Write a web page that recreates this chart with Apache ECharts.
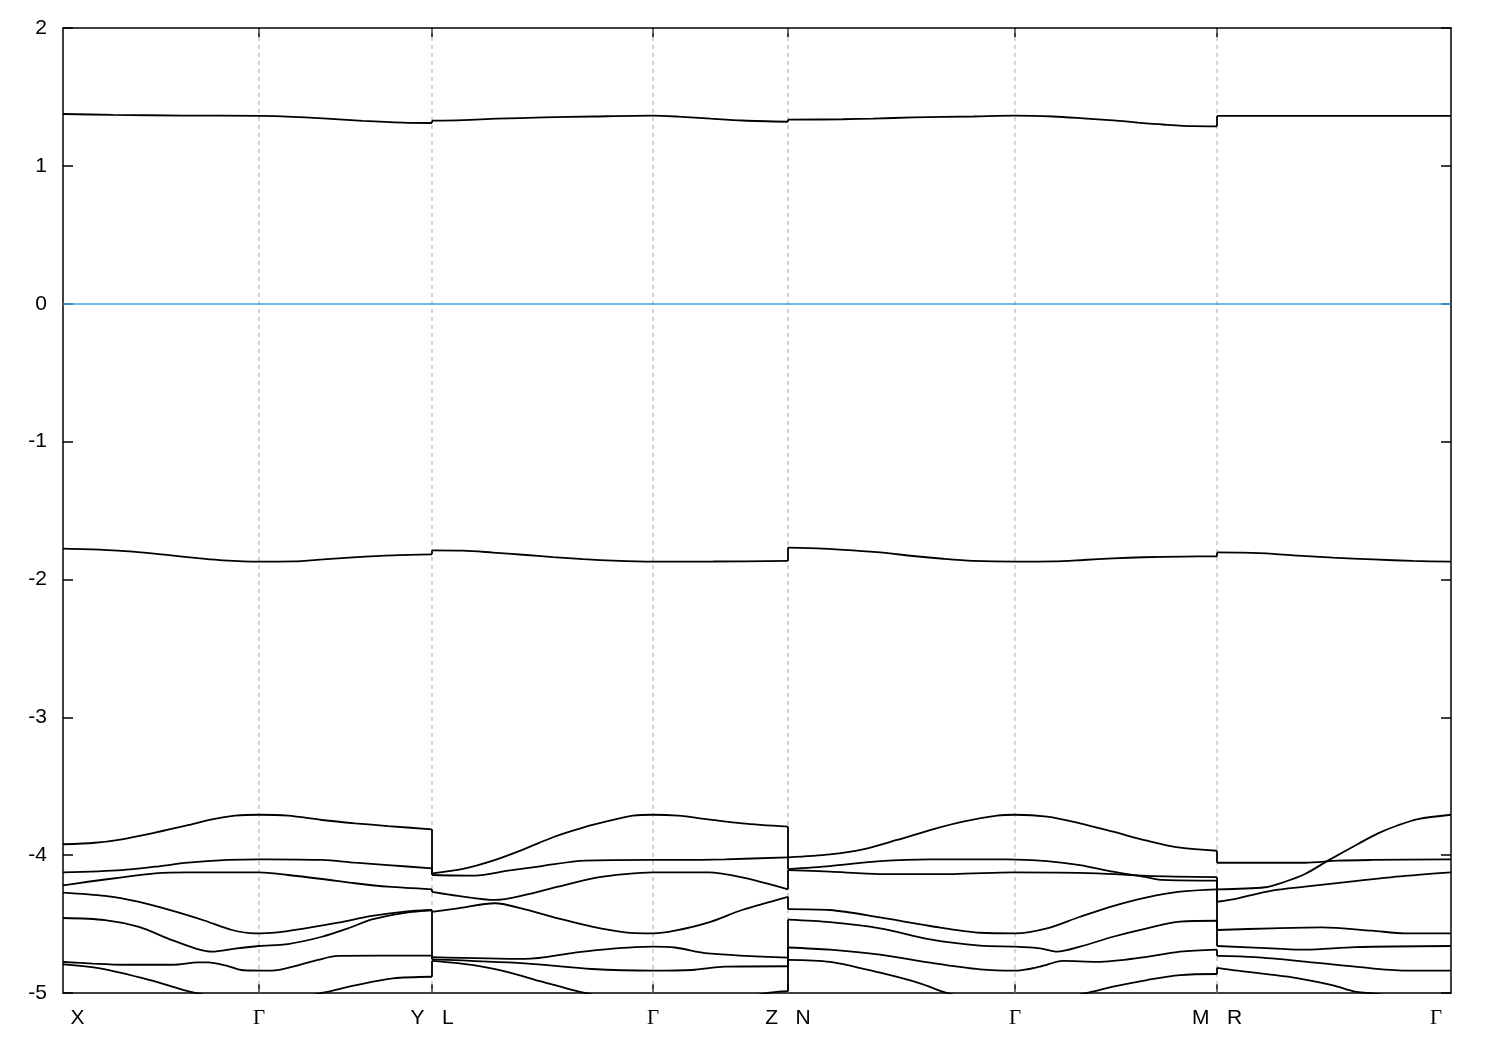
<!DOCTYPE html>
<html>
<head>
<meta charset="utf-8">
<script src="https://cdn.jsdelivr.net/npm/echarts@6/dist/echarts.min.js"></script>
<style>
html,body{margin:0;padding:0;background:#fff;}
#chart{width:1500px;height:1050px;}
</style>
</head>
<body>
<div id="chart"></div>
<script>
// High-symmetry points along the k-path
const kNodes = [0, 0.196, 0.369, 0.590, 0.725, 0.952, 1.154, 1.388];
const nodeLabels = ['X', 'Γ', 'Y   L', 'Γ', 'Z   N', 'Γ', 'M   R', 'Γ'];
const energyMin = -5;
const energyMax = 2;
const energyStep = 1;
const fermiLevel = 0;

// Bands: [k, E] pairs (segments X-Γ-Y | L-Γ-Z | N-Γ-M | R-Γ)
const bandTop = [
  [0,1.376],[0.05,1.370],[0.12,1.365],[0.196,1.362],[0.23,1.356],[0.26,1.345],[0.30,1.327],[0.34,1.314],[0.369,1.311],
  [0.369,1.328],[0.40,1.332],[0.434,1.342],[0.48,1.351],[0.53,1.358],[0.590,1.364],[0.615,1.357],[0.648,1.342],[0.68,1.329],[0.725,1.320],
  [0.725,1.335],[0.78,1.338],[0.81,1.343],[0.85,1.351],[0.91,1.358],[0.952,1.364],[0.99,1.358],[1.02,1.345],[1.05,1.330],[1.075,1.314],[1.10,1.300],[1.13,1.288],[1.154,1.287],
  [1.154,1.362],[1.388,1.362]
];
const bandMid = [
  [0,-1.777],[0.04,-1.785],[0.07,-1.799],[0.108,-1.826],[0.135,-1.846],[0.16,-1.862],[0.196,-1.871],[0.23,-1.869],[0.26,-1.855],[0.29,-1.840],[0.33,-1.825],[0.369,-1.818],
  [0.369,-1.789],[0.40,-1.791],[0.43,-1.805],[0.46,-1.821],[0.49,-1.838],[0.52,-1.853],[0.55,-1.864],[0.590,-1.871],[0.65,-1.870],[0.725,-1.866],
  [0.725,-1.769],[0.76,-1.776],[0.79,-1.789],[0.82,-1.806],[0.85,-1.830],[0.88,-1.850],[0.91,-1.865],[0.952,-1.871],[0.99,-1.869],[1.02,-1.859],[1.05,-1.847],[1.08,-1.839],[1.12,-1.834],[1.154,-1.833],
  [1.154,-1.804],[1.18,-1.806],[1.21,-1.814],[1.235,-1.827],[1.27,-1.842],[1.31,-1.855],[1.35,-1.866],[1.388,-1.871]
];
const band1 = [
  [0,-3.921],[0.032,-3.910],[0.059,-3.885],[0.092,-3.837],[0.125,-3.783],[0.149,-3.740],[0.172,-3.714],[0.196,-3.707],[0.225,-3.714],[0.259,-3.745],[0.292,-3.769],[0.325,-3.789],[0.369,-3.813],
  [0.369,-4.132],[0.40,-4.10],[0.43,-4.04],[0.46,-3.96],[0.49,-3.87],[0.52,-3.80],[0.55,-3.745],[0.57,-3.714],[0.590,-3.707],[0.615,-3.714],[0.645,-3.740],[0.679,-3.769],[0.725,-3.793],
  [0.725,-4.016],[0.767,-3.995],[0.800,-3.958],[0.834,-3.890],[0.867,-3.818],[0.900,-3.757],[0.934,-3.714],[0.952,-3.707],[0.984,-3.721],[1.017,-3.769],[1.050,-3.830],[1.084,-3.895],[1.117,-3.946],[1.154,-3.968],
  [1.154,-4.055],[1.242,-4.055],[1.275,-4.040],[1.309,-4.035],[1.388,-4.030]
];
const band2 = [
  [0,-4.125],[0.059,-4.108],[0.092,-4.084],[0.125,-4.055],[0.165,-4.035],[0.196,-4.030],[0.205,-4.030],[0.259,-4.035],[0.292,-4.055],[0.325,-4.072],[0.369,-4.096],
  [0.369,-4.144],[0.412,-4.149],[0.445,-4.113],[0.479,-4.079],[0.522,-4.040],[0.590,-4.035],[0.622,-4.035],[0.662,-4.030],[0.725,-4.016],
  [0.725,-4.101],[0.767,-4.079],[0.817,-4.043],[0.867,-4.030],[0.944,-4.030],[0.984,-4.043],[1.017,-4.072],[1.050,-4.120],[1.084,-4.161],[1.100,-4.180],[1.154,-4.185],
  [1.154,-4.338],[1.175,-4.313],[1.209,-4.258],[1.242,-4.229],[1.292,-4.188],[1.342,-4.151],[1.388,-4.125]
];
const band3 = [
  [0,-4.219],[0.025,-4.193],[0.059,-4.161],[0.092,-4.132],[0.125,-4.125],[0.196,-4.125],[0.225,-4.144],[0.259,-4.173],[0.292,-4.204],[0.325,-4.229],[0.369,-4.248],
  [0.369,-4.267],[0.395,-4.296],[0.432,-4.325],[0.462,-4.289],[0.495,-4.229],[0.535,-4.161],[0.562,-4.137],[0.590,-4.125],[0.645,-4.125],[0.679,-4.161],[0.725,-4.248],
  [0.725,-4.108],[0.767,-4.120],[0.817,-4.137],[0.890,-4.137],[0.950,-4.125],[1.034,-4.132],[1.084,-4.151],[1.154,-4.160],
  [1.154,-4.248],[1.202,-4.233],[1.222,-4.193],[1.242,-4.137],[1.265,-4.040],[1.295,-3.919],[1.315,-3.842],[1.335,-3.783],[1.355,-3.738],[1.388,-3.707]
];
const band4 = [
  [0,-4.272],[0.042,-4.296],[0.075,-4.338],[0.109,-4.403],[0.142,-4.476],[0.169,-4.543],[0.192,-4.567],[0.212,-4.562],[0.242,-4.531],[0.275,-4.490],[0.309,-4.441],[0.342,-4.410],[0.369,-4.398],
  [0.369,-4.412],[0.395,-4.386],[0.432,-4.349],[0.462,-4.393],[0.495,-4.458],[0.529,-4.519],[0.562,-4.560],[0.590,-4.567],[0.612,-4.548],[0.645,-4.490],[0.679,-4.398],[0.725,-4.302],
  [0.725,-4.391],[0.767,-4.398],[0.817,-4.452],[0.867,-4.514],[0.917,-4.563],[0.952,-4.567],[0.984,-4.531],[1.017,-4.447],[1.050,-4.369],[1.084,-4.306],[1.117,-4.265],[1.154,-4.248],
  [1.154,-4.543],[1.209,-4.531],[1.259,-4.524],[1.309,-4.548],[1.342,-4.567],[1.388,-4.567]
];
const band5 = [
  [0,-4.456],[0.042,-4.471],[0.075,-4.519],[0.109,-4.616],[0.132,-4.676],[0.149,-4.700],[0.172,-4.678],[0.196,-4.659],[0.225,-4.645],[0.259,-4.592],[0.285,-4.531],[0.309,-4.466],[0.342,-4.418],[0.369,-4.398],
  [0.369,-4.740],[0.462,-4.753],[0.512,-4.707],[0.545,-4.681],[0.590,-4.664],[0.612,-4.670],[0.645,-4.713],[0.725,-4.744],
  [0.725,-4.468],[0.767,-4.486],[0.817,-4.531],[0.867,-4.611],[0.917,-4.657],[0.952,-4.664],[0.977,-4.676],[0.994,-4.700],[1.017,-4.664],[1.050,-4.592],[1.084,-4.531],[1.117,-4.483],[1.154,-4.476],
  [1.154,-4.659],[1.209,-4.676],[1.242,-4.686],[1.292,-4.667],[1.388,-4.659]
];
const band6 = [
  [0,-4.775],[0.03,-4.787],[0.06,-4.795],[0.11,-4.795],[0.135,-4.778],[0.145,-4.778],[0.165,-4.805],[0.180,-4.835],[0.209,-4.838],[0.232,-4.805],[0.255,-4.760],[0.275,-4.731],[0.369,-4.729],
  [0.369,-4.756],[0.462,-4.785],[0.529,-4.826],[0.590,-4.838],[0.629,-4.833],[0.662,-4.809],[0.725,-4.806],
  [0.725,-4.670],[0.767,-4.686],[0.817,-4.722],[0.867,-4.780],[0.917,-4.828],[0.952,-4.838],[0.977,-4.809],[1.000,-4.767],[1.034,-4.774],[1.084,-4.738],[1.117,-4.700],[1.154,-4.686],
  [1.154,-4.731],[1.192,-4.740],[1.242,-4.772],[1.292,-4.809],[1.342,-4.838],[1.388,-4.838]
];
const band7 = [
  [0,-4.792],[0.037,-4.821],[0.087,-4.906],[0.130,-4.995],[0.196,-5.080],[0.260,-4.998],[0.292,-4.945],[0.330,-4.894],[0.369,-4.882],
  [0.369,-4.767],[0.412,-4.799],[0.445,-4.848],[0.479,-4.918],[0.522,-5.000],[0.590,-5.100],[0.680,-5.030],[0.709,-4.995],[0.725,-4.986],
  [0.725,-4.759],[0.767,-4.774],[0.817,-4.853],[0.857,-4.930],[0.884,-5.000],[0.952,-5.100],[1.024,-5.000],[1.050,-4.954],[1.084,-4.906],[1.117,-4.870],[1.154,-4.862],
  [1.154,-4.817],[1.175,-4.838],[1.225,-4.882],[1.269,-4.943],[1.292,-4.990],[1.305,-5.000],[1.388,-5.070]
];

const bands = [bandTop, bandMid, band1, band2, band3, band4, band5, band6, band7];

const chart = echarts.init(document.getElementById('chart'), null, {renderer: 'canvas'});
const FONT = 'Liberation Sans';
const FS = 21;
const axisLineStyle = {color: '#000', width: 1.5};
const innerNodes = kNodes.slice(1, -1);
const BAND_W = 1.8;

function labelFor(value) {
  const i = kNodes.findIndex(k => Math.abs(k - value) < 1e-6);
  if (i < 0) return '';
  const t = nodeLabels[i];
  if (i === 0) return '{first|' + t + '}';
  if (i === kNodes.length - 1) return '{last|' + t + '}';
  if (t === 'Γ') return '{g|' + t + '}';
  return t;
}

// split a band into its path segments (a repeated k marks a discontinuity)
function splitBand(b) {
  const segs = [[b[0]]];
  for (let i = 1; i < b.length; i++) {
    if (b[i][0] === b[i - 1][0]) segs.push([b[i]]);
    else segs[segs.length - 1].push(b[i]);
  }
  return segs;
}

const series = [];

// vertical dashed guides at the high-symmetry points
innerNodes.forEach(k => {
  series.push({
    type: 'line', data: [[k, energyMin], [k, energyMax]], symbol: 'none', silent: true,
    animation: false, z: 1, lineStyle: {color: '#a8a8a8', width: 1, type: [4, 4]}
  });
});
// Fermi level
series.push({
  type: 'line', data: [[kNodes[0], fermiLevel], [kNodes[kNodes.length - 1], fermiLevel]],
  symbol: 'none', silent: true, animation: false, z: 2,
  lineStyle: {opacity: 0},
  markLine: {
    silent: true, symbol: ['none', 'none'], animation: false, label: {show: false},
    data: [{yAxis: fermiLevel}],
    lineStyle: {color: '#3aa8dc', width: 1.5, type: 'solid'}
  }
});

bands.forEach(b => {
  const segs = splitBand(b);
  const smoothData = [];
  const jumpData = [];
  segs.forEach((s, si) => {
    if (si > 0) {
      smoothData.push([s[0][0], '-']);
      const prev = segs[si - 1][segs[si - 1].length - 1];
      jumpData.push(prev, s[0], [s[0][0], '-']);
    }
    s.forEach(p => smoothData.push(p));
  });
  series.push({
    type: 'line', data: smoothData, symbol: 'none', showSymbol: false, silent: true,
    animation: false, clip: true, z: 3, smooth: 0.3, connectNulls: false,
    lineStyle: {color: '#000', width: BAND_W}
  });
  series.push({
    type: 'line', data: jumpData, symbol: 'none', showSymbol: false, silent: true,
    animation: false, clip: true, z: 3, connectNulls: false,
    lineStyle: {color: '#000', width: BAND_W}
  });
});

const option = {
  backgroundColor: '#fff',
  animation: false,
  grid: {left: 63, right: 49, top: 28, bottom: 57, containLabel: false},
  xAxis: [
    {
      type: 'value', min: kNodes[0], max: kNodes[kNodes.length - 1], position: 'bottom',
      axisLine: {show: true, onZero: false, lineStyle: axisLineStyle},
      axisTick: {show: true, inside: true, length: 9, customValues: innerNodes, lineStyle: axisLineStyle},
      axisLabel: {
        show: true, customValues: kNodes, formatter: labelFor, color: '#000',
        fontSize: FS, fontFamily: FONT, margin: 15, hideOverlap: false,
        rich: {
          first: {fontSize: FS, fontFamily: FONT, color: '#000', padding: [0, 0, 0, 29]},
          last: {fontSize: FS, fontFamily: 'Liberation Serif', color: '#000', padding: [0, 30, 0, 0]},
          g: {fontSize: FS, fontFamily: 'Liberation Serif', color: '#000'}
        }
      },
      splitLine: {show: false}
    },
    {
      type: 'value', min: kNodes[0], max: kNodes[kNodes.length - 1], position: 'top',
      axisLine: {show: true, onZero: false, lineStyle: axisLineStyle},
      axisTick: {show: true, inside: true, length: 9, customValues: innerNodes, lineStyle: axisLineStyle},
      axisLabel: {show: false},
      splitLine: {show: false}
    }
  ],
  yAxis: [
    {
      type: 'value', min: energyMin, max: energyMax, interval: energyStep, position: 'left',
      axisLine: {show: true, onZero: false, lineStyle: axisLineStyle},
      axisTick: {show: true, inside: true, length: 10, lineStyle: axisLineStyle},
      axisLabel: {color: '#000', fontSize: FS, fontFamily: FONT, margin: 16},
      splitLine: {show: false}
    },
    {
      type: 'value', min: energyMin, max: energyMax, interval: energyStep, position: 'right',
      axisLine: {show: true, onZero: false, lineStyle: axisLineStyle},
      axisTick: {show: true, inside: true, length: 10, lineStyle: axisLineStyle},
      axisLabel: {show: false},
      splitLine: {show: false}
    }
  ],
  series: series
};
chart.setOption(option);
</script>
</body>
</html>
